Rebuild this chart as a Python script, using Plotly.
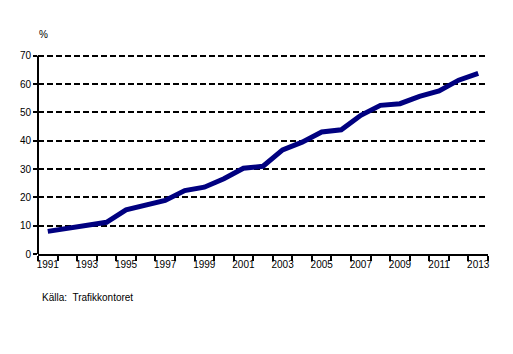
import plotly.graph_objects as go

years = [str(y) for y in range(1991, 2014)]
values = [8.0, 9.2, 10.2, 11.2, 15.6, 17.4, 18.9, 22.4, 23.6, 26.6, 30.3, 31.0,
          36.8, 39.5, 43.1, 43.9, 49.0, 52.5, 53.1, 55.7, 57.6, 61.4, 63.8]
y_ticks = [0, 10, 20, 30, 40, 50, 60, 70]

idx = list(range(len(years)))
font = dict(family="Liberation Sans, Arial, sans-serif", size=10, color="black")

fig = go.Figure()
fig.add_trace(go.Scatter(x=idx, y=values, mode="lines",
                         line=dict(color="#000080", width=5),
                         hoverinfo="skip", showlegend=False))

T, B, L, R = 53, 100, 38, 25
fig.update_layout(
    width=513, height=354,
    margin=dict(l=L, r=R, t=T, b=B),
    paper_bgcolor="white", plot_bgcolor="white",
    font=font,
    xaxis=dict(
        range=[-0.5, len(years) - 0.5],
        tickvals=idx[::2], ticktext=years[::2],
        ticks="", showgrid=False, zeroline=False,
        showline=True, linecolor="black", linewidth=2,
        tickfont=font,
        minor=dict(tickvals=[i - 0.5 for i in range(len(years) + 1)],
                   ticks="outside", ticklen=5, tickcolor="black", tickwidth=1.5,
                   showgrid=False),
    ),
    yaxis=dict(
        range=[0, 71], tickvals=y_ticks,
        ticks="outside", ticklen=4, tickcolor="black", tickwidth=1.5,
        showgrid=True, gridcolor="black", griddash="6px,3px", gridwidth=1.5,
        zeroline=False, showline=False,
        tickfont=font,
    ),
)
# y axis line from 0 to top tick only
fig.add_shape(type="line", xref="paper", yref="y", x0=0, x1=0,
              y0=y_ticks[0], y1=y_ticks[-1], line=dict(color="black", width=2),
              layer="above")

pw, ph = 513 - L - R, 354 - T - B
def px(x): return (x - L) / pw
def py(y): return (354 - B - y) / ph
fig.add_annotation(text="%", x=px(43), y=py(34), xref="paper", yref="paper",
                   showarrow=False, xanchor="center", yanchor="middle")
fig.add_annotation(text="Källa:  Trafikkontoret", x=px(40), y=py(297),
                   xref="paper", yref="paper", showarrow=False,
                   xanchor="left", yanchor="middle")

fig.write_html("out.html")
